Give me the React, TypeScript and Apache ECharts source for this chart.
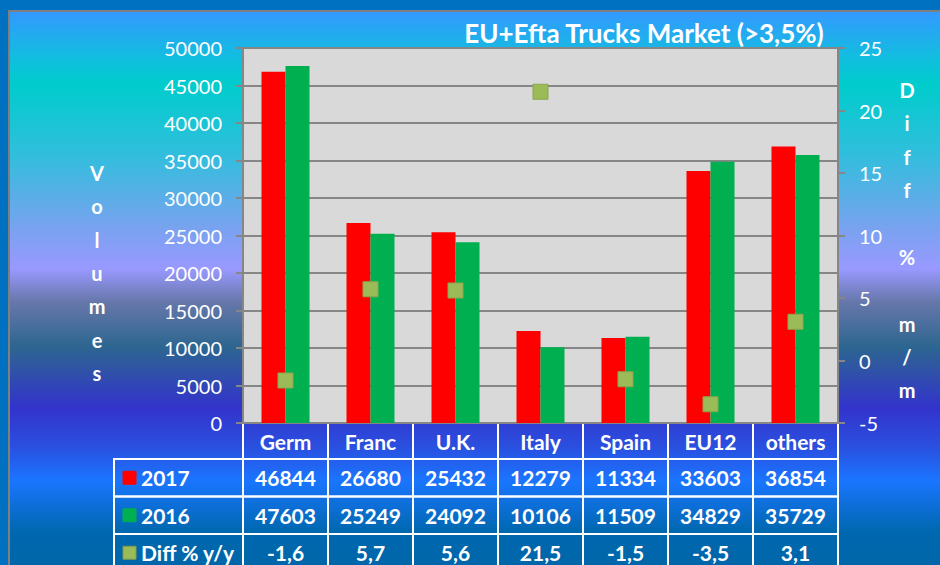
import React, { useEffect, useRef } from "react";
import * as echarts from "echarts";

const categories = ["Germ", "Franc", "U.K.", "Italy", "Spain", "EU12", "others"];
const volumes2017 = [46844, 26680, 25432, 12279, 11334, 33603, 36854];
const volumes2016 = [47603, 25249, 24092, 10106, 11509, 34829, 35729];
const diffPct = [-1.6, 5.7, 5.6, 21.5, -1.5, -3.5, 3.1];
const seriesNames = ["2017", "2016", "Diff % y/y"];
const titleText = "EU+Efta Trucks Market (>3,5%)";
const leftAxisName = "Volumes";
const rightAxisName = "Diff % m/m";

const RED = "#ff0000";
const GREEN = "#00b050";
const OLIVE = "#9bbb59";
const FONT = "Lato";

// layout
const GL = 243, GT = 48, GW = 595, GH = 375;
const COLW = GW / categories.length;
const TABLE_LEFT = 114;
const ROW_H = 37.5;

export default function App() {
  const ref = useRef<HTMLDivElement>(null);
  useEffect(() => {
    if (!ref.current) return;
    const chart = echarts.init(ref.current, null, { renderer: "svg" });
    const gBottom = GT + GH;
    const graphics: any[] = [];
    // title
    graphics.push({
      type: "text", x: 644, y: 33,
      style: { text: titleText, fill: "#fff", font: `bold 26px ${FONT}`, align: "center", verticalAlign: "middle" },
    });
    // axis names as stacked letters
    graphics.push({
      type: "text", x: 97, y: 273,
      style: { text: leftAxisName.split("").join("\n"), fill: "#fff", font: `bold 20px ${FONT}`, lineHeight: 33.4, align: "center", verticalAlign: "middle" },
    });
    graphics.push({
      type: "text", x: 907, y: 240,
      style: { text: rightAxisName.split("").join("\n"), fill: "#fff", font: `bold 20px ${FONT}`, lineHeight: 33.4, align: "center", verticalAlign: "middle" },
    });
    // header cells
    categories.forEach((_, i) => {
      graphics.push({
        type: "rect", shape: { x: GL + i * COLW, y: gBottom, width: COLW, height: 36 },
        style: { fill: "none", stroke: "#fff", lineWidth: 2 },
      });
    });
    const rows = [
      { name: seriesNames[0], color: RED, border: RED, vals: volumes2017.map(String) },
      { name: seriesNames[1], color: GREEN, border: GREEN, vals: volumes2016.map(String) },
      { name: seriesNames[2], color: OLIVE, border: "#7f9a48", vals: diffPct.map((v) => v.toFixed(1).replace(".", ",")) },
    ];
    const rowTop = gBottom + 36;
    rows.forEach((r, ri) => {
      const y0 = rowTop + ri * ROW_H;
      graphics.push({
        type: "rect", shape: { x: TABLE_LEFT, y: y0, width: GL - TABLE_LEFT, height: ROW_H },
        style: { fill: "none", stroke: "#fff", lineWidth: 2 },
      });
      graphics.push({
        type: "rect", shape: { x: 123, y: y0 + ROW_H / 2 - 6.5, width: 13, height: 13 },
        style: { fill: r.color, stroke: r.border, lineWidth: 1 },
      });
      graphics.push({
        type: "text", x: 141, y: y0 + ROW_H / 2,
        style: { text: r.name, fill: "#fff", font: `bold 21px ${FONT}`, align: "left", verticalAlign: "middle" },
      });
      r.vals.forEach((v, i) => {
        graphics.push({
          type: "rect", shape: { x: GL + i * COLW, y: y0, width: COLW, height: ROW_H },
          style: { fill: "none", stroke: "#fff", lineWidth: 2 },
        });
        graphics.push({
          type: "text", x: GL + (i + 0.5) * COLW, y: y0 + ROW_H / 2,
          style: { text: v, fill: "#fff", font: `bold 21px ${FONT}`, align: "center", verticalAlign: "middle" },
        });
      });
    });

    chart.setOption({
      animation: false,
      backgroundColor: "transparent",
      textStyle: { fontFamily: FONT },
      grid: {
        left: GL, top: GT, width: GW, height: GH,
        show: true, backgroundColor: "#d9d9d9", borderWidth: 0,
      },
      legend: { show: false },
      xAxis: {
        type: "category", data: categories,
        axisLine: { show: false }, axisTick: { show: false },
        axisLabel: { color: "#fff", fontWeight: "bold", fontSize: 21, fontFamily: FONT, margin: 18, verticalAlign: "middle" },
      },
      yAxis: [
        {
          type: "value", min: 0, max: 50000, interval: 5000,
          axisLine: { show: true, lineStyle: { color: "#868686", width: 2 } },
          axisTick: { show: true, length: 7, lineStyle: { color: "#868686", width: 2 } },
          splitLine: { show: true, lineStyle: { color: "#868686", width: 2 } },
          axisLabel: { color: "#fff", fontSize: 20, fontFamily: FONT, margin: 21, formatter: (v: number) => String(v) },
        },
        {
          type: "value", min: -5, max: 25, interval: 5, position: "right",
          axisLine: { show: true, lineStyle: { color: "#868686", width: 2 } },
          axisTick: { show: true, length: 7, lineStyle: { color: "#868686", width: 2 } },
          splitLine: { show: false },
          axisLabel: { color: "#fff", fontSize: 20, fontFamily: FONT, margin: 21, formatter: (v: number) => String(v) },
        },
      ],
      series: [
        { name: seriesNames[0], type: "bar", data: volumes2017, barWidth: 24, barGap: "0%", itemStyle: { color: RED } },
        { name: seriesNames[1], type: "bar", data: volumes2016, barWidth: 24, barGap: "0%", itemStyle: { color: GREEN } },
        {
          name: seriesNames[2], type: "scatter", yAxisIndex: 1, data: diffPct, symbol: "rect", symbolSize: [15, 15],
          itemStyle: { color: OLIVE, borderColor: "#8aa64e", borderWidth: 1, opacity: 1 }, z: 5,
        },
      ],
      graphic: graphics,
    });
    return () => chart.dispose();
  }, []);

  return (
    <div style={{ position: "fixed", left: 0, top: 0, width: 940, height: 565, background: "#0070c0", overflow: "hidden" }}>
      <div
        style={{
          position: "absolute", left: 8, top: 10, width: 940, height: 560, boxSizing: "border-box",
          borderTop: "2px solid #7f7f7f", borderLeft: "2px solid #7f7f7f",
          background:
            "linear-gradient(to bottom, #3399ff 0%, #12bde0 8%, #00cccc 13%, #2ebfdc 25%, #7aa2f0 39%, #9999ff 46%, #6677aa 52%, #2d6690 60%, #3333cc 71%, #2a50e0 78%, #1a75ff 84%, #0068b0 93%, #0066a8 100%)",
        }}
      />
      <div ref={ref} style={{ position: "absolute", left: 0, top: 0, width: 940, height: 565 }} />
    </div>
  );
}
